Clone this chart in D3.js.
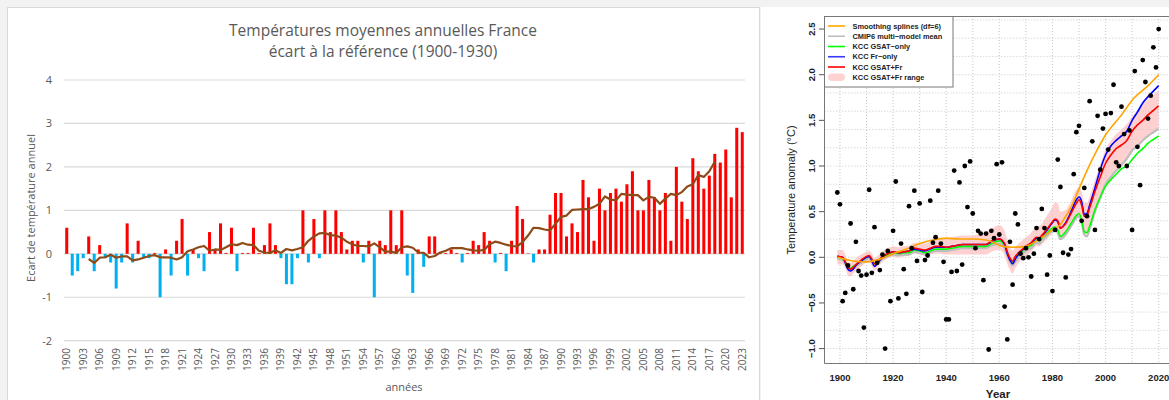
<!DOCTYPE html>
<html><head><meta charset="utf-8">
<script src="https://cdn.jsdelivr.net/npm/d3@7"></script>
<style>html,body{margin:0;padding:0;background:#f2f2f2;}svg{display:block;}</style>
</head><body>
<svg id="c" width="1169" height="400"></svg>
<script>
// ---------- LEFT CHART DATA ----------
const barYears = d3.range(1900, 2024);
const barValues = [0.6,-0.5,-0.4,-0.1,0.4,-0.4,0.2,-0.1,-0.2,-0.8,
-0.2,0.7,-0.2,0.3,-0.1,-0.1,0.02,-1.0,0.1,-0.5,
0.3,0.8,-0.5,0.1,-0.1,-0.4,0.5,0.1,0.7,0.02,
0.6,-0.4,0.02,0.02,0.6,0.02,0.2,0.7,0.2,-0.1,
-0.7,-0.7,-0.1,1.0,-0.2,0.8,-0.1,1.0,0.5,1.0,
0.5,0.1,0.3,0.3,-0.2,0.3,-1.0,0.3,0.2,1.0,
0.2,1.0,-0.5,-0.9,0.1,-0.3,0.4,0.4,0.02,0.02,
0.1,0.02,-0.2,0.02,0.3,0.2,0.5,0.3,-0.2,0.02,
-0.4,0.3,1.1,0.8,0.01,-0.2,0.1,0.1,0.9,1.4,
1.4,0.4,0.7,0.5,1.7,1.3,0.3,1.5,1.0,1.4,
1.5,1.2,1.6,1.9,1.0,1.0,1.7,1.3,1.0,1.4,
0.3,2.0,1.2,0.8,2.2,1.9,1.5,1.8,2.3,2.1,
2.4,1.3,2.9,2.8];
const maYears = d3.range(1904, 2019);
const maValues = [-0.12,-0.21,-0.09,-0.08,-0.02,-0.09,-0.06,-0.06,-0.15,-0.13,
-0.09,-0.05,-0.03,-0.08,-0.08,-0.09,-0.13,-0.08,0.06,0.1,
0.15,0.18,0.07,0.1,0.09,0.15,0.22,0.2,0.25,0.21,
0.2,0.07,0.03,0.02,0.08,0.02,0.11,0.08,0.11,0.15,
0.3,0.4,0.47,0.48,0.43,0.42,0.37,0.28,0.22,0.18,
0.18,0.17,0.24,0.15,0.05,0.05,0.02,0.15,0.17,0.14,
0.03,0.02,-0.08,-0.05,0.03,0.07,0.13,0.13,0.13,0.1,
0.08,0.07,0.09,0.22,0.28,0.25,0.21,0.18,0.17,0.27,
0.42,0.6,0.59,0.56,0.54,0.69,0.85,0.88,1.01,1.02,
1.03,1.03,1.08,1.15,1.32,1.25,1.23,1.38,1.36,1.35,
1.35,1.23,1.31,1.29,1.15,1.27,1.38,1.35,1.42,1.55,
1.6,1.81,1.77,1.9,2.12];
const leftYTicks = [-2,-1,0,1,2,3,4];
const leftXLabels = d3.range(1900, 2024, 3);

// ---------- RIGHT CHART DATA ----------
const obsYears = d3.range(1899, 2021);
const obsValues = [0.71,0.58,-0.48,-0.39,-0.09,0.37,-0.35,0.17,-0.15,-0.2,
-0.77,-0.19,0.74,-0.17,0.33,-0.06,-0.14,0.03,-1.0,0.07,
-0.48,0.29,0.83,-0.45,0.15,-0.13,-0.4,0.56,0.1,0.73,
-0.04,0.59,-0.38,-0.03,0.02,0.62,0.16,0.22,0.73,0.15,
-0.05,-0.68,-0.68,-0.16,0.95,-0.15,0.82,-0.08,1.0,0.55,
1.05,0.48,0.1,0.29,0.26,-0.25,0.26,-1.01,0.29,0.21,
1.02,0.25,1.04,-0.54,-0.9,0.17,-0.3,0.48,0.36,0.04,
-0.01,0.1,0.0,-0.21,0.04,0.32,0.2,0.53,0.32,-0.19,
0.02,-0.37,0.3,1.07,0.77,0.05,-0.22,0.03,0.09,0.91,
1.37,1.44,0.4,0.76,0.45,1.71,1.27,0.3,1.55,0.96,
1.41,1.57,1.18,1.58,1.89,1.04,1.0,1.65,1.35,1.0,
1.39,0.3,2.04,1.21,0.79,2.16,1.92,1.52,1.77,2.3,
2.08,2.5];
const splineYears = [1899,1905,1910,1915,1920,1925,1930,1935,1940,1945,1950,1955,1958,1960,1965,1970,1975,1980,1983,1985,1987,1990,1993,1996,2000,2006,2010,2016,2020];
const splineValues = [0.0,-0.04,-0.05,-0.02,0.04,0.09,0.15,0.19,0.21,0.2,0.2,0.19,0.16,0.13,0.11,0.12,0.2,0.3,0.36,0.45,0.55,0.75,0.95,1.13,1.34,1.56,1.72,1.88,2.0];
const kccYears = [1899,1901,1902,1903,1904,1905,1906,1908,1910,1911,1912,1913,1914,1916,1918,1920,1922,1924,1926,1928,1930,1932,1934,1936,1938,1940,1942,1944,1946,1948,1950,1952,1955,1957,1960,1962,1963,1964,1965,1966,1968,1970,1972,1974,1975,1976,1978,1980,1981,1982,1983,1985,1987,1989,1990,1991,1992,1993,1994,1996,1998,2000,2002,2004,2006,2008,2010,2012,2014,2016,2018,2020];
const gsatFrValues = [0.01,0.0,-0.05,-0.11,-0.13,-0.11,-0.08,-0.03,0.01,0.02,-0.02,-0.07,-0.05,0.01,0.04,0.06,0.05,0.06,0.07,0.1,0.09,0.08,0.1,0.12,0.12,0.11,0.12,0.13,0.14,0.14,0.14,0.14,0.14,0.18,0.2,0.15,0.06,-0.01,-0.04,0.01,0.07,0.12,0.16,0.22,0.21,0.24,0.31,0.39,0.42,0.4,0.32,0.37,0.48,0.59,0.63,0.57,0.45,0.46,0.54,0.72,0.88,1.03,1.12,1.19,1.23,1.28,1.38,1.45,1.5,1.56,1.61,1.66];
const frOnlyValues = [0.01,0.0,-0.06,-0.13,-0.15,-0.13,-0.09,-0.04,0.0,0.01,-0.04,-0.1,-0.07,0.0,0.04,0.06,0.05,0.06,0.07,0.09,0.08,0.07,0.09,0.11,0.11,0.11,0.12,0.13,0.14,0.14,0.14,0.14,0.14,0.17,0.2,0.14,0.04,-0.03,-0.07,-0.02,0.06,0.11,0.15,0.21,0.2,0.23,0.3,0.38,0.41,0.39,0.32,0.38,0.5,0.63,0.66,0.61,0.47,0.48,0.57,0.76,0.96,1.12,1.22,1.28,1.33,1.38,1.5,1.59,1.69,1.76,1.82,1.88];
const gsatOnlyValues = [0.0,-0.01,-0.05,-0.1,-0.12,-0.1,-0.08,-0.04,0.0,0.01,-0.03,-0.07,-0.05,0.0,0.03,0.05,0.04,0.05,0.05,0.08,0.07,0.05,0.07,0.09,0.09,0.09,0.1,0.11,0.12,0.12,0.12,0.12,0.12,0.15,0.18,0.13,0.05,-0.02,-0.05,-0.01,0.05,0.1,0.13,0.19,0.18,0.21,0.27,0.32,0.33,0.3,0.23,0.28,0.37,0.46,0.48,0.41,0.28,0.27,0.34,0.52,0.66,0.78,0.85,0.91,0.97,1.0,1.07,1.14,1.19,1.25,1.29,1.33];
const cmipValues = [-0.02,-0.03,-0.07,-0.12,-0.14,-0.12,-0.1,-0.06,-0.02,-0.01,-0.05,-0.09,-0.07,-0.02,0.01,0.03,0.02,0.03,0.03,0.06,0.05,0.03,0.05,0.07,0.07,0.07,0.08,0.09,0.1,0.1,0.1,0.1,0.1,0.13,0.15,0.1,0.02,-0.05,-0.09,-0.05,0.02,0.07,0.1,0.16,0.15,0.18,0.24,0.29,0.3,0.27,0.2,0.25,0.34,0.43,0.45,0.38,0.25,0.23,0.31,0.5,0.65,0.8,0.88,0.95,1.01,1.08,1.17,1.22,1.28,1.33,1.37,1.41];
const rangeHigh = [0.08,0.08,0.03,-0.04,-0.06,-0.04,-0.01,0.03,0.06,0.07,0.04,-0.01,0.01,0.07,0.1,0.12,0.11,0.12,0.13,0.16,0.16,0.15,0.17,0.2,0.21,0.21,0.22,0.23,0.24,0.24,0.24,0.25,0.28,0.31,0.35,0.29,0.19,0.11,0.07,0.11,0.17,0.22,0.27,0.34,0.34,0.37,0.46,0.55,0.6,0.59,0.5,0.52,0.62,0.74,0.77,0.72,0.6,0.6,0.67,0.85,1.02,1.18,1.28,1.35,1.4,1.46,1.54,1.61,1.67,1.73,1.78,1.83];
const rangeLow = [-0.08,-0.08,-0.12,-0.2,-0.21,-0.18,-0.15,-0.1,-0.06,-0.05,-0.1,-0.15,-0.12,-0.05,-0.01,0.01,0.0,0.01,0.02,0.04,0.03,0.02,0.03,0.04,0.04,0.03,0.03,0.03,0.03,0.03,0.03,0.03,0.03,0.06,0.08,0.02,-0.07,-0.14,-0.18,-0.12,-0.04,0.01,0.06,0.12,0.12,0.14,0.2,0.26,0.28,0.26,0.2,0.24,0.33,0.43,0.45,0.39,0.26,0.26,0.34,0.53,0.67,0.82,0.9,0.97,1.02,1.08,1.18,1.24,1.29,1.34,1.38,1.42];
const rightYTicks = [-1.0,-0.5,0.0,0.5,1.0,1.5,2.0,2.5];
const rightXTicks = [1900,1920,1940,1960,1980,2000,2020];
const legendItems = ["Smoothing splines (df=6)","CMIP6 multi\u2212model mean","KCC GSAT\u2212only","KCC Fr\u2212only","KCC GSAT+Fr","KCC GSAT+Fr range"];
const legendColors = ["#ffa500","#bebebe","#00ff00","#3a3aff","#ff0000","#ffd2d2"];

// ---------- DRAW ----------
const svg = d3.select("#c");
svg.append("rect").attr("x",0).attr("y",0).attr("width",1169).attr("height",400).attr("fill","#f2f2f2");
svg.append("rect").attr("x",7.5).attr("y",7.5).attr("width",752).attr("height",400).attr("fill","#fff").attr("stroke","#d9d9d9");
svg.append("rect").attr("x",761).attr("y",7).attr("width",408).attr("height",393).attr("fill","#fff");

const grey = "#595959";
const fL = "'Open Sans', sans-serif";
const L = svg.append("g");
const yL = d3.scaleLinear().domain([-2,4]).range([340.7,80]);
const xL = d3.scaleBand().domain(barYears).range([64,745]).paddingInner(0.45).paddingOuter(0.225);
L.selectAll(".grid").data(leftYTicks).join("line")
  .attr("x1",64).attr("x2",745).attr("y1",d=>yL(d)).attr("y2",d=>yL(d))
  .attr("stroke","#d9d9d9").attr("stroke-width",1.2);
L.selectAll(".yt").data(leftYTicks).join("text")
  .attr("x",52).attr("y",d=>yL(d)).attr("dy","0.35em").attr("text-anchor","end")
  .attr("font-family",fL).attr("font-size",11).attr("fill",grey).text(d=>d);
L.selectAll(".bar").data(barYears).join("rect")
  .attr("x",d=>xL(d)).attr("width",xL.bandwidth())
  .attr("y",(d,i)=>yL(Math.max(0,barValues[i])))
  .attr("height",(d,i)=>Math.abs(yL(barValues[i])-yL(0)))
  .attr("fill",(d,i)=>barValues[i]>=0?"#ff0000":"#00b0f0");
const maLine = d3.line().x((d,i)=>xL(maYears[i])+xL.bandwidth()/2).y(d=>yL(d));
L.append("path").attr("d",maLine(maValues)).attr("fill","none").attr("stroke","#8e4a17").attr("stroke-width",2.2).attr("stroke-linejoin","round");
L.selectAll(".xl").data(leftXLabels).join("text")
  .attr("transform",d=>`translate(${xL(d)+xL.bandwidth()/2},348) rotate(-90)`)
  .attr("dy","0.35em").attr("text-anchor","end")
  .attr("font-family",fL).attr("font-size",10).attr("fill",grey).text(d=>d);
L.append("text").attr("x",383).attr("y",36).attr("text-anchor","middle").attr("font-family",fL).attr("font-size",15.5).attr("fill",grey).text("Températures moyennes annuelles France");
L.append("text").attr("x",383).attr("y",57).attr("text-anchor","middle").attr("font-family",fL).attr("font-size",15.5).attr("fill",grey).text("écart à la référence (1900-1930)");
L.append("text").attr("transform","translate(31,208) rotate(-90)").attr("dy","0.35em").attr("text-anchor","middle").attr("font-family",fL).attr("font-size",11).attr("fill",grey).text("Ecart de température annuel");
L.append("text").attr("x",404).attr("y",391).attr("text-anchor","middle").attr("font-family",fL).attr("font-size",11).attr("fill",grey).text("années");

// right chart
const fR = "'Liberation Sans', Arial, sans-serif";
const R = svg.append("g");
const xR = d3.scaleLinear().domain([1894.1,2024]).range([824.3,1169.3]);
const yR = d3.scaleLinear().domain([-1.161,2.643]).range([363.3,16]);
svg.append("clipPath").attr("id","pc").append("rect").attr("x",824.3).attr("y",16).attr("width",346).attr("height",347.3);
const P = R.append("g").attr("clip-path","url(#pc)");
const area = d3.area().x((d,i)=>xR(kccYears[i])).y0((d,i)=>yR(rangeLow[i])).y1(d=>yR(d)).curve(d3.curveMonotoneX);
P.append("path").attr("d",area(rangeHigh)).attr("fill","#ffc8c8").attr("opacity",0.85);
P.selectAll(".vg").data(d3.range(1900,2030,10)).join("line")
  .attr("x1",d=>xR(d)).attr("x2",d=>xR(d)).attr("y1",16).attr("y2",363.3)
  .attr("stroke","#c8c8c8").attr("stroke-dasharray","1,2");
P.selectAll(".hg").data(d3.range(-5,14).map(k=>k*0.2)).join("line")
  .attr("x1",824.3).attr("x2",1170).attr("y1",d=>yR(d)).attr("y2",d=>yR(d))
  .attr("stroke","#c8c8c8").attr("stroke-dasharray","1,2");
function ln(years, vals, color, w){
  const g = d3.line().x((d,i)=>xR(years[i])).y(d=>yR(d)).curve(d3.curveMonotoneX);
  P.append("path").attr("d",g(vals)).attr("fill","none").attr("stroke",color).attr("stroke-width",w);
}
ln(kccYears,cmipValues,"#bdbdbd",2.2);
ln(kccYears,gsatOnlyValues,"#00ff00",1.6);
ln(kccYears,frOnlyValues,"#0000ff",1.6);
ln(kccYears,gsatFrValues,"#ff0000",1.6);
ln(splineYears,splineValues,"#ffa500",1.6);
P.selectAll(".pt").data(obsYears).join("circle")
  .attr("cx",d=>xR(d)).attr("cy",(d,i)=>yR(obsValues[i])).attr("r",2.4).attr("fill","#000");
R.append("path").attr("d","M1169.5,16.5H824.5V363.5H1169.5").attr("fill","none").attr("stroke","#777").attr("stroke-width",1);
R.selectAll(".ytk").data(rightYTicks).join("line")
  .attr("x1",819).attr("x2",824.3).attr("y1",d=>yR(d)).attr("y2",d=>yR(d)).attr("stroke","#555");
R.selectAll(".ytl").data(rightYTicks).join("text")
  .attr("transform",d=>`translate(812,${yR(d)}) rotate(-90)`).attr("dy","0.35em").attr("text-anchor","middle")
  .attr("font-family",fR).attr("font-weight","bold").attr("font-size",9.5).attr("fill","#222")
  .text(d=>d<0?"\u2212"+Math.abs(d).toFixed(1):d.toFixed(1));
R.selectAll(".xtl").data(rightXTicks).join("text")
  .attr("x",d=>xR(d)).attr("y",380.5).attr("text-anchor","middle")
  .attr("font-family",fR).attr("font-weight","bold").attr("font-size",9.5).attr("fill","#222").text(d=>d);
R.append("text").attr("x",998).attr("y",398).attr("text-anchor","middle").attr("font-family",fR).attr("font-weight","bold").attr("font-size",11.5).attr("fill","#222").text("Year");
R.append("text").attr("transform","translate(791,190) rotate(-90)").attr("dy","0.35em").attr("text-anchor","middle").attr("font-family",fR).attr("font-size",11).attr("fill","#222").text("Temperature anomaly (\u00B0C)");
const LG = R.append("g");
LG.append("rect").attr("x",824.5).attr("y",16.5).attr("width",128.5).attr("height",70.5).attr("fill","#fff").attr("stroke","#777");
legendItems.forEach((t,i)=>{
  const y = 26 + i*10.25;
  if(i===5){
    LG.append("rect").attr("x",828).attr("y",y-3.8).attr("width",17).attr("height",7.6).attr("rx",3.8).attr("fill",legendColors[i]);
  } else {
    LG.append("line").attr("x1",828).attr("x2",845).attr("y1",y).attr("y2",y).attr("stroke",legendColors[i]).attr("stroke-width",1.6);
  }
  LG.append("text").attr("x",852.5).attr("y",y).attr("dy","0.35em").attr("font-family",fR).attr("font-weight","bold").attr("font-size",7.4).attr("fill","#222").text(t);
});
</script>
</body></html>
